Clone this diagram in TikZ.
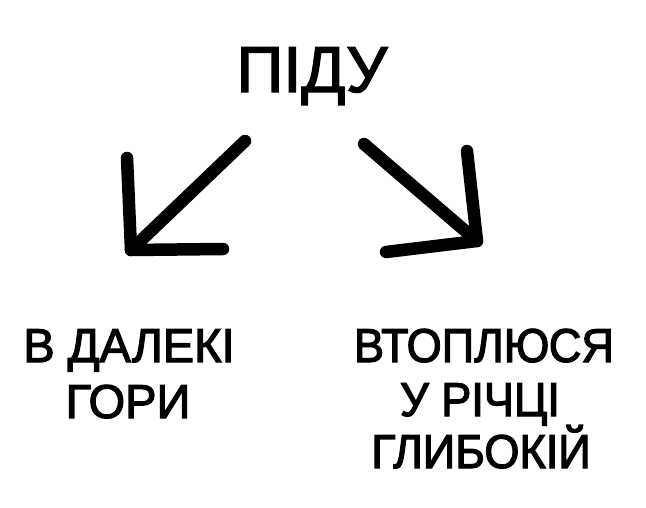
\documentclass[tikz,border=0pt]{standalone}
\usepackage{fontspec}
\setmainfont{Liberation Sans}
\newfontfamily\titlefont{Liberation Sans}[FakeBold=2]
\newfontfamily\labelfont{Liberation Sans}[FakeStretch=0.95,FakeBold=2.5]
\newfontfamily\leftfont{Liberation Sans}[FakeStretch=0.99,FakeBold=2.5]
\begin{document}
\begin{tikzpicture}[x=1pt,y=-1pt,
  stroke/.style={line width=12.5pt,line cap=round,line join=round,black},
  ttl/.style={anchor=base,inner sep=0pt,font=\titlefont\fontsize{65}{70}\selectfont},
  lbl/.style={anchor=base,inner sep=0pt,font=\labelfont\fontsize{47.5}{54}\selectfont},
  lbll/.style={anchor=base,inner sep=0pt,font=\leftfont\fontsize{47.5}{54}\selectfont}]
\useasboundingbox (0,0) rectangle (646,508);
\fill[white] (0,0) rectangle (646,508);
% title
\node[ttl] (title) at (312,92) {ПІДУ};
% left label
\node[lbll] (l1) at (129,362) {В ДАЛЕКІ};
\node[lbll] (l2) at (128,418) {ГОРИ};
% right label
\node[lbl] (r1) at (484,362) {ВТОПЛЮСЯ};
\node[lbl] (r2) at (480,416) {У РІЧЦІ};
\node[lbl] (r3) at (481,468) {ГЛИБОКІЙ};
% left arrow
\coordinate (ls) at (245,141);
\coordinate (lt) at (131,250);
\coordinate (lv) at (127,158);
\coordinate (lh) at (223,249);
\draw[stroke] (ls) -- (lt);
\draw[stroke] (lv) -- (lt) -- (lh);
% right arrow
\coordinate (rs) at (364,144);
\coordinate (rt) at (477,241);
\coordinate (rv) at (467,151);
\coordinate (rh) at (386,252);
\draw[stroke] (rs) -- (rt);
\draw[stroke] (rv) -- (rt) -- (rh);
\end{tikzpicture}
\end{document}
